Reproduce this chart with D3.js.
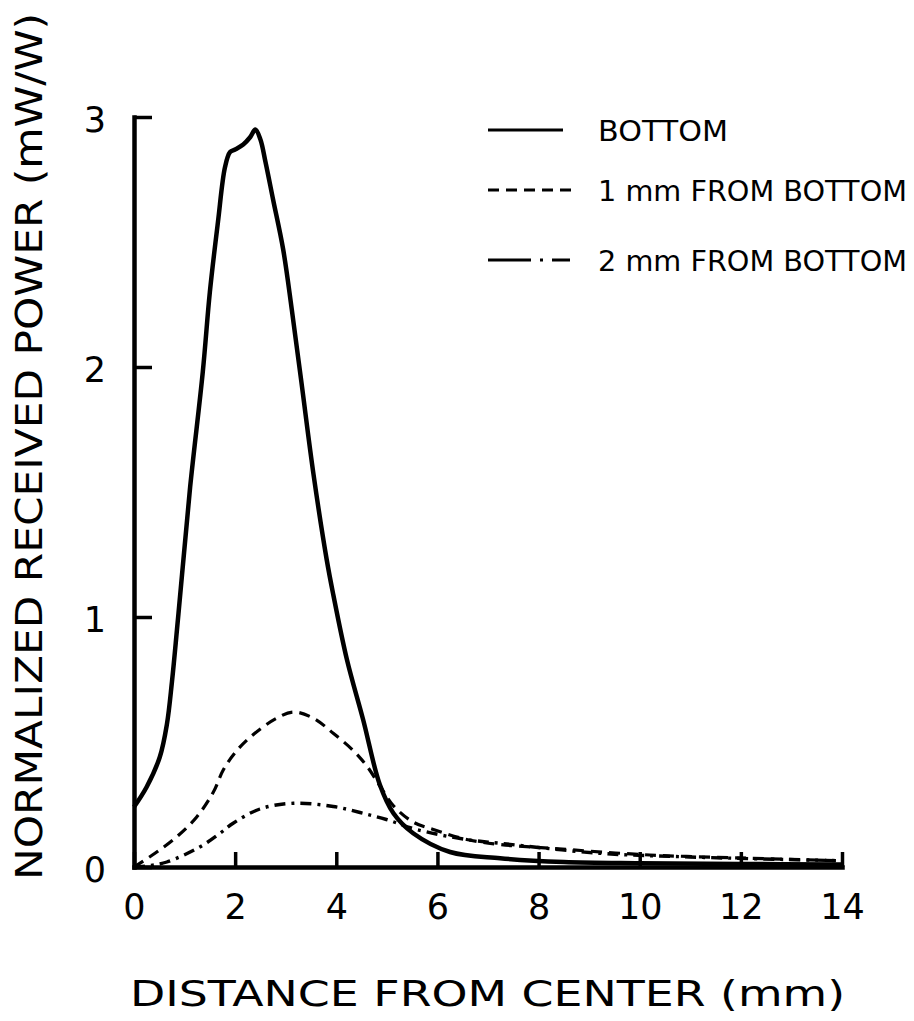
<!DOCTYPE html>
<html>
<head>
<meta charset="utf-8">
<script src="https://cdn.jsdelivr.net/npm/d3@7"></script>
<style>
  body { margin: 0; background: #fff; }
  text { font-family: "DejaVu Sans", sans-serif; fill: #000; }
</style>
</head>
<body>
<div id="chart"></div>
<script>
// values (distance in mm, power in mW/W)
const bottomX = [0, 0.25, 0.51, 0.65, 0.75, 0.85, 0.95, 1.11, 1.36, 1.5, 1.66, 1.8, 1.9, 2.0, 2.16, 2.3, 2.4, 2.5, 2.6, 2.75, 2.95, 3.12, 3.31, 3.55, 3.81, 3.94, 4.21, 4.53, 4.86, 5.13, 5.52, 6.25, 7.24, 8.5, 10, 12, 14];
const bottomY = [0.24, 0.32, 0.44, 0.57, 0.74, 0.95, 1.17, 1.52, 1.98, 2.3, 2.58, 2.8, 2.86, 2.87, 2.89, 2.92, 2.95, 2.91, 2.82, 2.67, 2.47, 2.23, 1.94, 1.57, 1.23, 1.09, 0.83, 0.59, 0.33, 0.215, 0.135, 0.06, 0.035, 0.02, 0.015, 0.012, 0.01];

const oneMmX = [0, 0.415, 0.84, 1.24, 1.57, 1.77, 2.03, 2.36, 2.82, 3.15, 3.55, 3.94, 4.34, 4.6, 4.86, 5.13, 5.52, 5.92, 6.58, 7.24, 8.22, 10.2, 12.2, 14];
const oneMmY = [0, 0.055, 0.12, 0.2, 0.3, 0.39, 0.465, 0.53, 0.595, 0.62, 0.595, 0.535, 0.465, 0.405, 0.325, 0.245, 0.18, 0.15, 0.11, 0.09, 0.075, 0.048, 0.035, 0.025];

const twoMmX = [0, 0.3, 0.65, 1.3, 1.7, 1.96, 2.49, 3.15, 3.94, 4.47, 4.99, 5.59, 6.57, 7.24, 9.2, 11, 14];
const twoMmY = [0, 0.005, 0.02, 0.08, 0.135, 0.175, 0.232, 0.255, 0.242, 0.218, 0.19, 0.15, 0.11, 0.095, 0.055, 0.04, 0.025];

const xTicks = [0, 2, 4, 6, 8, 10, 12, 14];
const yTicks = [0, 1, 2, 3];
const seriesNames = ["BOTTOM", "1 mm FROM BOTTOM", "2 mm FROM BOTTOM"];

const width = 914, height = 1021;

const svg = d3.select("#chart").append("svg")
    .attr("width", width)
    .attr("height", height);

// scales
const x = d3.scaleLinear().domain([0, 14]).range([134, 842]);
const y = d3.scaleLinear().domain([0, 3]).range([867, 117]);

// x axis, ticks pointing up into the plot
const xAxis = svg.append("g")
    .attr("transform", `translate(0,${y(0)})`)
    .call(d3.axisBottom(x).tickValues(xTicks).tickFormat(d3.format("d"))
        .tickSizeInner(-15).tickSizeOuter(0).tickPadding(27));

// y axis, ticks pointing right
const yAxis = svg.append("g")
    .attr("transform", `translate(${x(0)},0)`)
    .call(d3.axisLeft(y).tickValues(yTicks).tickFormat(d3.format("d"))
        .tickSizeInner(-18).tickSizeOuter(0).tickPadding(28));

[xAxis, yAxis].forEach(g => {
    g.select(".domain").attr("stroke", "#000").attr("stroke-width", 4.5).attr("stroke-linecap", "square");
    g.selectAll(".tick line").attr("stroke", "#000").attr("stroke-width", 3.5);
    g.selectAll(".tick text").style("font-size", "35px").attr("fill", "#000");
});
yAxis.selectAll(".tick text").attr("text-anchor", "middle").attr("x", -39).attr("dy", "0.4em");

// line generator
const line = d3.line()
    .x(d => x(d[0]))
    .y(d => y(d[1]))
    .curve(d3.curveCatmullRom.alpha(0.5));

const zipXY = (xs, ys) => xs.map((v, i) => [v, ys[i]]);

const series = [
    { name: seriesNames[0], data: zipXY(bottomX, bottomY), dash: null, w: 4.5 },
    { name: seriesNames[1], data: zipXY(oneMmX, oneMmY), dash: "11,7", w: 3.2 },
    { name: seriesNames[2], data: zipXY(twoMmX, twoMmY), dash: "11,6,3,6", w: 3.4 }
];

series.forEach(s => {
    svg.append("path")
        .datum(s.data)
        .attr("fill", "none")
        .attr("stroke", "#000")
        .attr("stroke-width", s.w)
        .attr("stroke-linejoin", "round")
        .attr("stroke-dasharray", s.dash)
        .attr("d", line);
});

// legend
const legendRows = [130, 190, 260];
const legendDash = [null, "11,7", "43,9,3,9,18"];
const legendEnd = [563, 572, 571];
const legendLen = [130, 309, 309];
series.forEach((s, i) => {
    svg.append("line")
        .attr("x1", 488).attr("x2", legendEnd[i])
        .attr("y1", legendRows[i]).attr("y2", legendRows[i])
        .attr("stroke", "#000")
        .attr("stroke-width", 2.8)
        .attr("stroke-dasharray", legendDash[i]);
    svg.append("text")
        .attr("x", 598)
        .attr("y", legendRows[i] + 11)
        .attr("textLength", legendLen[i])
        .attr("lengthAdjust", "spacingAndGlyphs")
        .style("font-size", "28px")
        .text(s.name);
});

// axis titles
svg.append("text")
    .attr("x", 130)
    .attr("y", 1006)
    .attr("textLength", 715)
    .attr("lengthAdjust", "spacingAndGlyphs")
    .style("font-size", "35px")
    .text("DISTANCE FROM CENTER (mm)");

svg.append("text")
    .attr("transform", "translate(42,880) rotate(-90)")
    .attr("x", 0)
    .attr("y", 0)
    .attr("textLength", 867)
    .attr("lengthAdjust", "spacingAndGlyphs")
    .style("font-size", "38px")
    .text("NORMALIZED RECEIVED POWER (mW/W)");
</script>
</body>
</html>
